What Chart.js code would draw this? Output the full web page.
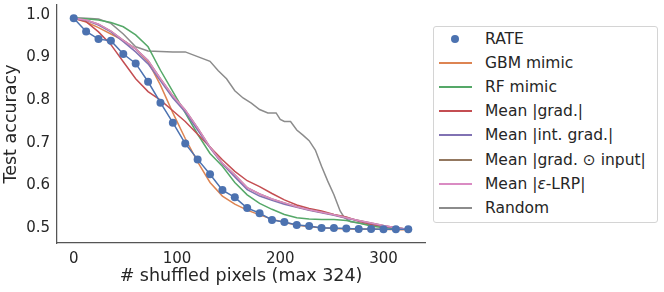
<!DOCTYPE html>
<html>
<head>
<meta charset="utf-8">
<script src="https://cdn.jsdelivr.net/npm/chart.js@4.4.1/dist/chart.umd.min.js"></script>
<style>
  html, body { margin: 0; padding: 0; background: #fff; }
  #wrap { position: relative; width: 664px; height: 292px; }
  #legend {
    position: absolute; left: 433px; top: 26px; width: 225px; height: 197px;
    box-sizing: border-box; border: 1px solid #d4d4d4; border-radius: 3px; background: #fff;
    font-family: "DejaVu Sans"; font-size: 15.5px; color: #262626;
  }
  .row { position: absolute; left: 0; height: 0; }
  .handle { position: absolute; left: 5px; width: 33px; height: 2px; top: -1px; }
  .dot { position: absolute; left: 17px; top: -4px; width: 8px; height: 8px; border-radius: 50%; }
  .label { position: absolute; left: 51px; top: -10px; line-height: 20px; white-space: nowrap; }
</style>
</head>
<body>
<div id="wrap">
  <canvas id="c" width="664" height="292"></canvas>
  <div id="legend"></div>
</div>
<script>
// x grid shared by the method curves (number of shuffled pixels)
const steps = [0, 12, 24, 36, 48, 60, 72, 84, 96, 108, 120, 132, 144, 156, 168, 180,
               192, 204, 216, 228, 240, 252, 264, 276, 288, 300, 312, 324];

const rate = [0.992, 0.961, 0.943, 0.939, 0.908, 0.886, 0.843, 0.794, 0.747, 0.698,
              0.661, 0.626, 0.589, 0.572, 0.547, 0.535, 0.519, 0.514, 0.507, 0.505,
              0.500, 0.500, 0.499, 0.498, 0.498, 0.497, 0.497, 0.497];
const gbm = [0.992, 0.983, 0.970, 0.955, 0.940, 0.920, 0.890, 0.835, 0.770, 0.710,
             0.655, 0.607, 0.575, 0.556, 0.542, 0.531, 0.521, 0.513, 0.507, 0.503,
             0.501, 0.499, 0.498, 0.497, 0.497, 0.497, 0.496, 0.496];
const rf = [0.992, 0.991, 0.988, 0.982, 0.972, 0.953, 0.925, 0.870, 0.820, 0.770,
            0.720, 0.675, 0.645, 0.607, 0.578, 0.558, 0.544, 0.532, 0.524, 0.521,
            0.520, 0.520, 0.518, 0.512, 0.505, 0.501, 0.499, 0.498];
const grad = [0.992, 0.984, 0.960, 0.930, 0.890, 0.850, 0.820, 0.800, 0.775, 0.750,
              0.720, 0.690, 0.660, 0.633, 0.611, 0.597, 0.581, 0.566, 0.554, 0.546,
              0.540, 0.532, 0.526, 0.516, 0.509, 0.504, 0.500, 0.497];
const intGrad = [0.992, 0.987, 0.976, 0.960, 0.937, 0.913, 0.885, 0.845, 0.805, 0.772,
                 0.730, 0.688, 0.650, 0.620, 0.590, 0.575, 0.565, 0.556, 0.549, 0.542,
                 0.536, 0.530, 0.523, 0.517, 0.511, 0.505, 0.500, 0.497];
const gradInput = [0.992, 0.988, 0.978, 0.962, 0.940, 0.920, 0.893, 0.850, 0.810, 0.777,
                   0.735, 0.690, 0.652, 0.625, 0.595, 0.580, 0.568, 0.559, 0.550, 0.543,
                   0.537, 0.531, 0.524, 0.518, 0.512, 0.506, 0.501, 0.497];
const lrp = [0.992, 0.988, 0.978, 0.962, 0.940, 0.920, 0.893, 0.850, 0.810, 0.777,
             0.735, 0.690, 0.652, 0.625, 0.595, 0.580, 0.568, 0.559, 0.550, 0.543,
             0.537, 0.531, 0.524, 0.518, 0.512, 0.506, 0.501, 0.497];

const randomX = [0, 12, 24, 36, 48, 60, 72, 84, 96, 108, 120, 132, 140, 148, 156, 164,
                 172, 180, 188, 196, 200, 204, 210, 216, 222, 228, 234, 240, 246, 252,
                 258, 262, 268, 276, 288, 300, 312, 324];
const randomY = [0.993, 0.992, 0.990, 0.980, 0.955, 0.925, 0.915, 0.914, 0.913, 0.913,
                 0.902, 0.891, 0.869, 0.850, 0.822, 0.805, 0.793, 0.778, 0.770, 0.770,
                 0.755, 0.750, 0.750, 0.730, 0.718, 0.705, 0.683, 0.645, 0.610, 0.578,
                 0.540, 0.525, 0.515, 0.512, 0.507, 0.503, 0.500, 0.497];

const xTicks = [0, 100, 200, 300];
const yTicks = [0.5, 0.6, 0.7, 0.8, 0.9, 1.0];

const names = ['RATE', 'GBM mimic', 'RF mimic', 'Mean |grad.|', 'Mean |int. grad.|',
               'Mean |grad. \u2299 input|', 'Mean |<i>\u03b5</i>-LRP|', 'Random'];
const colors = ['#4c72b0', '#dd8452', '#55a868', '#c44e52', '#8172b3', '#937860', '#da8bc3', '#8c8c8c'];

const pts = (xs, ys) => xs.map((x, i) => ({ x: x, y: ys[i] }));

function line(i, data, order) {
  return {
    label: names[i].replace(/<[^>]+>/g, ''),
    data: data,
    borderColor: colors[i],
    backgroundColor: colors[i],
    borderWidth: 1.5,
    pointRadius: 0,
    tension: 0,
    order: order
  };
}

const datasets = [
  Object.assign(line(0, pts(steps, rate), 0), { pointRadius: 4, pointBorderWidth: 0 }),
  line(1, pts(steps, gbm), 7),
  line(2, pts(steps, rf), 6),
  line(3, pts(steps, grad), 5),
  line(4, pts(steps, intGrad), 4),
  line(5, pts(steps, gradInput), 3),
  line(6, pts(steps, lrp), 2),
  line(7, pts(randomX, randomY), 8)
];

const textColor = '#262626';
const spine = '#555555';

// keep the plot box where the reference has it: no extra room for tick label overhang
const noPad = s => { s.paddingTop = 0; s.paddingBottom = 0; s.paddingLeft = 0; s.paddingRight = 0; };

new Chart(document.getElementById('c'), {
  type: 'line',
  data: { datasets: datasets },
  options: {
    responsive: false,
    animation: false,
    devicePixelRatio: 1,
    layout: { padding: { left: 0, top: 5, right: 239, bottom: 0 } },
    plugins: { legend: { display: false }, tooltip: { enabled: false } },
    scales: {
      x: {
        type: 'linear', min: -16.2, max: 340.2,
        grid: { display: false, drawTicks: false },
        border: { display: true, color: spine, width: 1.25 },
        afterBuildTicks: s => { s.ticks = xTicks.map(v => ({ value: v })); },
        afterFit: s => { s.height = 49; noPad(s); },
        ticks: { color: textColor, padding: 7, font: { family: 'DejaVu Sans', size: 15 } },
        title: { display: true, text: '# shuffled pixels (max 324)', color: textColor,
                 padding: { top: 0, bottom: 4.8 }, font: { family: 'DejaVu Sans', size: 17.5 } }
      },
      y: {
        type: 'linear', min: 0.465, max: 1.023,
        grid: { display: false, drawTicks: false },
        border: { display: true, color: spine, width: 1.25 },
        afterBuildTicks: s => { s.ticks = yTicks.map(v => ({ value: v })); },
        afterFit: s => { s.width = 57; noPad(s); },
        ticks: { color: textColor, padding: 7, font: { family: 'DejaVu Sans', size: 15 },
                 callback: v => v.toFixed(1) },
        title: { display: true, text: 'Test accuracy', color: textColor,
                 padding: { top: 1.2, bottom: 0 }, font: { family: 'DejaVu Sans', size: 17.5 } }
      }
    }
  }
});

// legend box at the right, in the same order as the series
const legend = document.getElementById('legend');
names.forEach((name, i) => {
  const row = document.createElement('div');
  row.className = 'row';
  row.style.top = Math.round(12 + i * 24.1) + 'px';
  const mark = document.createElement('div');
  mark.className = i === 0 ? 'dot' : 'handle';
  mark.style.background = colors[i];
  const txt = document.createElement('div');
  txt.className = 'label';
  txt.innerHTML = name;
  row.appendChild(mark);
  row.appendChild(txt);
  legend.appendChild(row);
});
</script>
</body>
</html>
